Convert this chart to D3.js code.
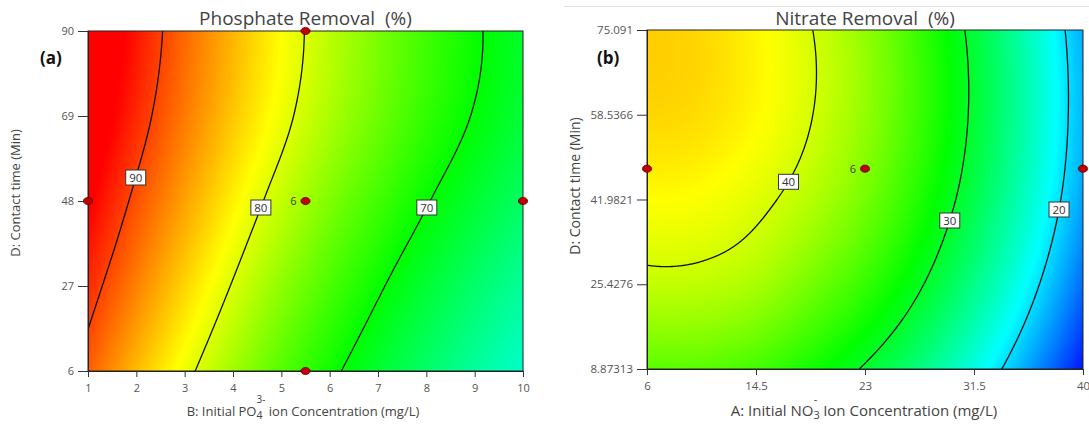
<!DOCTYPE html>
<html><head><meta charset="utf-8">
<script src="https://cdn.jsdelivr.net/npm/d3@7"></script>
<style>
body{margin:0;background:#fff;}
svg{display:block;}
text{font-family:"Open Sans",sans-serif;}
</style>
</head><body>
<svg id="chart" width="1089" height="425"></svg>
<script>
// ---------------- DATA ----------------
// Panel (a): Phosphate removal (%) vs B (initial PO4 conc, mg/L) and D (contact time, min)
const phosB = [1, 2, 3, 4, 5, 6, 7, 8, 9, 10];
const phosD = [6, 27, 48, 69, 90];
const phosRemoval = [            // rows follow phosD, columns follow phosB
  [88.8, 84.6, 80.8, 77.2, 73.8, 70.7, 67.9, 65.3, 63.0, 60.9],
  [91.2, 87.2, 83.4, 79.8, 76.4, 73.3, 70.4, 67.7, 65.3, 63.1],
  [93.4, 89.4, 85.7, 82.1, 78.8, 75.7, 72.9, 70.2, 67.8, 65.5],
  [95.1, 91.2, 87.5, 84.0, 80.8, 77.7, 74.9, 72.2, 69.8, 67.5],
  [96.1, 92.1, 88.3, 84.8, 81.5, 78.4, 75.5, 72.8, 70.4, 68.1]
];
const phosLevels = [70, 80, 90];
const phosColorStops = [47, 58.5, 70, 81.5, 93];
const phosDesignB = [5.5, 1, 5.5, 10, 5.5];
const phosDesignD = [90, 48, 48, 48, 6];
const phosXTicks = [1, 2, 3, 4, 5, 6, 7, 8, 9, 10];
const phosYTicks = [6, 27, 48, 69, 90];
const phosYTickLabels = ["6", "27", "48", "69", "90"];

// Panel (b): Nitrate removal (%) vs A (initial NO3 conc, mg/L) and D (contact time, min)
const nitA = [6, 10.25, 14.5, 18.75, 23, 27.25, 31.5, 35.75, 40];
const nitD = [8.87313, 25.4276, 41.9821, 58.5366, 75.091];
const nitRemoval = [             // rows follow nitD, columns follow nitA
  [35.0, 35.0, 34.1, 32.2, 29.7, 26.5, 22.4, 17.5, 11.8],
  [39.3, 39.2, 38.3, 36.2, 33.6, 30.3, 26.1, 21.1, 15.3],
  [41.8, 41.6, 40.6, 38.8, 36.2, 32.7, 28.5, 23.4, 17.5],
  [43.4, 43.1, 42.0, 40.1, 37.4, 33.8, 29.5, 24.3, 18.3],
  [43.7, 43.3, 42.1, 40.1, 37.3, 33.6, 29.2, 24.0, 17.9]
];
const nitLevels = [20, 30, 40];
const nitColorStops = [11, 21.3, 31.5, 41.8, 52];
const nitDesignA = [6, 23, 40];
const nitDesignD = [48, 48, 48];
const nitXTicks = [6, 14.5, 23, 31.5, 40];
const nitXTickLabels = ["6", "14.5", "23", "31.5", "40"];
const nitYTicks = [8.87313, 25.4276, 41.9821, 58.5366, 75.091];
const nitYTickLabels = ["8.87313", "25.4276", "41.9821", "58.5366", "75.091"];

const centerReplicates = "6";
const gradientColors = ["#0000ff", "#00ffff", "#00ff00", "#ffff00", "#ff0000"];

// ---------------- LAYOUT ----------------
const svg = d3.select("#chart");
svg.append("rect").attr("width",1089).attr("height",425).attr("fill","#fff");
svg.append("line").attr("x1",564).attr("x2",1089).attr("y1",6.5).attr("y2",6.5)
   .attr("stroke","#e2e2e2").attr("stroke-width",1);

function makeSurface(xs, ys, grid){
  const dx = (xs[xs.length-1]-xs[0])/(xs.length-1);
  const dy = (ys[ys.length-1]-ys[0])/(ys.length-1);
  function ext(arr,k){
    const n = arr.length;
    if (k < 0) return 3*arr[0]-3*arr[1]+arr[2];
    if (k >= n) return 3*arr[n-1]-3*arr[n-2]+arr[n-3];
    return arr[k];
  }
  function cr(p0,p1,p2,p3,t){
    return 0.5*((2*p1) + (-p0+p2)*t + (2*p0-5*p1+4*p2-p3)*t*t + (-p0+3*p1-3*p2+p3)*t*t*t);
  }
  function interp(arr,u){
    const i = Math.min(Math.max(Math.floor(u),0),arr.length-2);
    const t = u - i;
    return cr(ext(arr,i-1), arr[i], arr[i+1], ext(arr,i+2), t);
  }
  return function(x,y){
    const u = (x-xs[0])/dx, v = (y-ys[0])/dy;
    const col = grid.map(r => interp(r,u));
    return interp(col,v);
  };
}

function drawPanel(cfg){
  const {x0,x1,y0,y1} = cfg;
  const W = x1-x0, H = y1-y0;
  const x = d3.scaleLinear().domain(cfg.xDomain).range([x0,x1]);
  const y = d3.scaleLinear().domain(cfg.yDomain).range([y1,y0]);
  const surf = makeSurface(cfg.xs, cfg.ys, cfg.grid);
  const color = d3.scaleLinear().domain(cfg.stops).range(gradientColors).clamp(true);

  const values = new Float64Array(W*H);
  const canvas = document.createElement("canvas");
  canvas.width = W; canvas.height = H;
  const ctx = canvas.getContext("2d");
  const img = ctx.createImageData(W,H);
  for (let j=0;j<H;j++){
    const yv = y.invert(y0+j+0.5);
    for (let i=0;i<W;i++){
      const v = surf(x.invert(x0+i+0.5), yv);
      values[j*W+i] = v;
      const c = d3.rgb(color(v));
      const k = (j*W+i)*4;
      img.data[k]=c.r; img.data[k+1]=c.g; img.data[k+2]=c.b; img.data[k+3]=255;
    }
  }
  ctx.putImageData(img,0,0);
  svg.append("image").attr("x",x0).attr("y",y0).attr("width",W).attr("height",H)
     .attr("href",canvas.toDataURL());

  const clipId = "clip"+cfg.id;
  svg.append("clipPath").attr("id",clipId).append("rect")
     .attr("x",x0).attr("y",y0).attr("width",W).attr("height",H);

  const cs = d3.contours().size([W,H]).thresholds(cfg.levels)(values);
  const g = svg.append("g").attr("clip-path",`url(#${clipId})`);
  const labelInfo = [];
  cs.forEach((c) => {
    let d = "";
    const pts = [];
    const eps = 0.001;
    c.coordinates.forEach(poly => poly.forEach(ring => {
      let pen = false;
      for (let k=1;k<ring.length;k++){
        const a = ring[k-1], b = ring[k];
        const boundary =
          (Math.abs(a[0]-b[0])<1e-6 && (a[0]<=eps||a[0]>=W-eps)) ||
          (Math.abs(a[1]-b[1])<1e-6 && (a[1]<=eps||a[1]>=H-eps));
        if (boundary){ pen=false; continue; }
        if (!pen){ d += `M${x0+a[0]},${y0+a[1]}`; pen = true; }
        d += `L${x0+b[0]},${y0+b[1]}`;
        pts.push([x0+b[0], y0+b[1]]);
      }
    }));
    g.append("path").attr("d",d).attr("fill","none").attr("stroke","#111").attr("stroke-width",1.3);
    labelInfo.push({value:c.value, pts});
  });

  svg.append("rect").attr("x",x0).attr("y",y0).attr("width",W).attr("height",H)
     .attr("fill","none").attr("stroke","#222").attr("stroke-width",1);

  labelInfo.forEach((li,k) => {
    const ty = y(cfg.labelD[k]);
    let best = null, bd = Infinity;
    li.pts.forEach(p => { const dd = Math.abs(p[1]-ty); if (dd<bd){bd=dd;best=p;} });
    if (!best) return;
    const lg = svg.append("g");
    lg.append("rect").attr("x",best[0]-10).attr("y",best[1]-7.5).attr("width",20).attr("height",15)
      .attr("fill","#fff").attr("stroke","#333").attr("stroke-width",1);
    lg.append("text").attr("x",best[0]).attr("y",best[1]+4).attr("text-anchor","middle")
      .attr("font-size",11.5).attr("fill","#333").text(d3.format("d")(li.value));
  });

  const xa = svg.append("g").attr("transform",`translate(0,${y1})`)
    .call(d3.axisBottom(x).tickValues(cfg.xTicks).tickFormat((d,i)=>cfg.xTickLabels[i]).tickSize(6).tickSizeOuter(0).tickPadding(7));
  const ya = svg.append("g").attr("transform",`translate(${x0},0)`)
    .call(d3.axisLeft(y).tickValues(cfg.yTicks).tickFormat((d,i)=>cfg.yTickLabels[i]).tickSize(10).tickSizeOuter(0).tickPadding(4));
  [xa,ya].forEach(a => {
    a.selectAll("path").attr("stroke","#222");
    a.selectAll("line").attr("stroke","#333");
    a.selectAll("text").attr("fill","#555").attr("font-size",cfg.tickFont)
      .attr("font-family","'Open Sans',sans-serif");
  });

  cfg.px.forEach((pxv,i) => {
    svg.append("ellipse").attr("cx",x(pxv)).attr("cy",y(cfg.py[i])).attr("rx",4.6).attr("ry",3.6)
      .attr("fill","#c00000").attr("stroke","#5a0000").attr("stroke-width",0.8);
  });
  const cx = x(cfg.center[0]), cy = y(cfg.center[1]);
  svg.append("text").attr("x",cx-9).attr("y",cy+4).attr("text-anchor","end")
     .attr("font-size",11).attr("fill","#3a3a2a").text(centerReplicates);

  svg.append("text").attr("x",(x0+x1)/2).attr("y",25).attr("text-anchor","middle")
     .attr("font-size",19).attr("fill","#444").attr("xml:space","preserve").text(cfg.title);
  svg.append("text").attr("x",cfg.letterX).attr("y",64).attr("font-size",17).attr("font-weight","bold")
     .attr("fill","#111").text(cfg.letter);
  svg.append("text").attr("transform",`translate(${cfg.yTitleX},${cfg.yTitleY}) rotate(-90)`)
     .attr("text-anchor","middle").attr("font-size",cfg.yTitleFont).attr("fill","#444").text("D: Contact time (Min)");
  return {x,y};
}

drawPanel({
  id:"a", x0:88, x1:523, y0:31, y1:371,
  xDomain:[1,10], yDomain:[6,90],
  xs:phosB, ys:phosD, grid:phosRemoval, levels:phosLevels, stops:phosColorStops,
  labelD:[46.5, 46.5, 53.8],
  xTicks:phosXTicks, xTickLabels:phosXTicks.map(String),
  yTicks:phosYTicks, yTickLabels:phosYTickLabels, tickFont:11,
  px:phosDesignB, py:phosDesignD, center:[5.5,48],
  title:"Phosphate Removal  (%)", letter:"(a)", letterX:40,
  yTitleX:20, yTitleY:193, yTitleFont:13
});
drawPanel({
  id:"b", x0:647, x1:1083, y0:30, y1:369,
  xDomain:[6,40], yDomain:[8.87313,75.091],
  xs:nitA, ys:nitD, grid:nitRemoval, levels:nitLevels, stops:nitColorStops,
  labelD:[40.1, 37.8, 45.4],
  xTicks:nitXTicks, xTickLabels:nitXTickLabels,
  yTicks:nitYTicks, yTickLabels:nitYTickLabels, tickFont:11.5,
  px:nitDesignA, py:nitDesignD, center:[23,48],
  title:"Nitrate Removal  (%)", letter:"(b)", letterX:597,
  yTitleX:580, yTitleY:186, yTitleFont:14
});

// x axis titles with sub/superscripts
const t1 = svg.append("text").attr("x",303).attr("y",416).attr("text-anchor","middle")
  .attr("font-size",13).attr("fill","#444");
t1.append("tspan").text("B: Initial PO");
t1.append("tspan").attr("font-size",10.5).attr("dy",3).text("4");
t1.append("tspan").attr("font-size",10).attr("dx",-6).attr("dy",-16).text("3-");
t1.append("tspan").attr("dy",13).text(" ion Concentration (mg/L)");

const t2 = svg.append("text").attr("x",864).attr("y",416).attr("text-anchor","middle")
  .attr("font-size",15).attr("fill","#444");
t2.append("tspan").text("A: Initial NO");
t2.append("tspan").attr("font-size",11).attr("dy",3).text("3");
t2.append("tspan").attr("font-size",11).attr("dx",-6).attr("dy",-16).text("-");
t2.append("tspan").attr("dx",2).attr("dy",13).text(" Ion Concentration (mg/L)");
</script>
</body></html>
